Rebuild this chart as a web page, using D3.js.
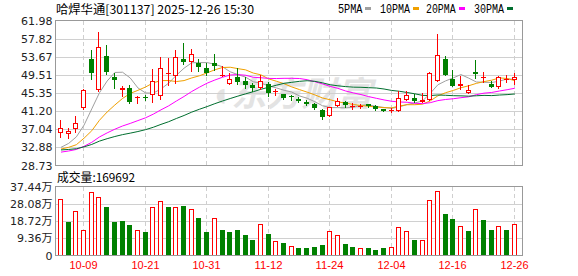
<!DOCTYPE html>
<html><head><meta charset="utf-8">
<script src="https://cdn.jsdelivr.net/npm/d3@7"></script>
<style>html,body{margin:0;padding:0;background:#fff;overflow:hidden}</style>
</head><body>
<svg id="c" width="578" height="276"></svg>
<script>
const dates = ["09-26","09-29","09-30","10-09","10-10","10-13","10-14","10-15","10-16","10-17","10-20","10-21","10-22","10-23","10-24","10-27","10-28","10-29","10-30","10-31","11-03","11-04","11-05","11-06","11-07","11-10","11-11","11-12","11-13","11-14","11-17","11-18","11-19","11-20","11-21","11-24","11-25","11-26","11-27","11-28","12-01","12-02","12-03","12-04","12-05","12-08","12-09","12-10","12-11","12-12","12-15","12-16","12-17","12-18","12-19","12-22","12-23","12-24","12-25","12-26"];
const openP = [36.22,35.99,37.14,42.03,53.04,46.01,53.95,49.06,45.93,46.54,44.17,44.48,44.86,44.71,49.67,49.22,53.04,52.43,52.20,51.20,52.12,49.22,47.46,48.91,48.07,47.15,46.46,47.38,45.62,45.09,44.71,43.94,43.18,42.72,41.42,40.04,42.41,43.33,42.18,42.18,42.80,42.41,41.73,41.19,41.19,43.79,44.32,43.33,43.71,48.15,53.04,48.68,46.92,45.39,50.06,48.76,47.46,46.69,48.38,48.38];
const highP = [39.05,37.37,40.12,46.20,55.33,59.23,56.32,49.98,47.00,47.30,44.70,45.01,50.90,53.50,53.27,55.33,56.71,55.48,53.19,52.12,54.26,51.58,49.83,51.13,48.99,47.69,49.37,47.84,46.31,45.09,44.86,44.40,43.64,43.10,41.80,42.18,44.32,43.41,43.10,42.80,42.80,42.57,41.73,42.03,45.70,45.70,45.09,45.32,50.21,58.77,53.95,50.74,49.14,47.23,52.96,50.13,48.07,49.22,49.52,49.98];
const lowP = [35.23,35.00,36.45,41.80,48.68,45.90,49.75,46.46,44.63,43.10,42.95,43.64,43.25,44.09,47.15,47.69,52.04,50.36,50.36,49.44,50.74,49.22,47.46,47.53,46.54,45.78,46.16,44.63,45.01,44.09,43.64,43.25,42.49,41.73,39.28,40.04,42.34,42.11,41.80,41.88,42.18,41.42,41.19,41.04,41.19,43.79,43.33,43.18,43.71,48.15,49.44,46.92,46.31,45.39,48.76,47.99,46.69,46.54,47.99,47.46];
const closeP = [37.44,36.68,38.51,46.08,49.83,55.94,50.13,48.30,46.39,43.25,44.55,44.33,48.15,51.13,49.90,53.65,52.35,54.41,51.28,49.98,51.66,49.52,48.68,47.99,47.08,46.39,48.07,45.32,45.77,44.32,44.40,43.48,42.72,41.88,39.81,42.18,43.41,42.49,42.41,42.45,42.34,41.72,41.27,41.42,44.17,45.01,43.48,43.64,49.98,54.11,49.44,46.92,47.46,45.93,49.67,49.06,46.69,48.99,48.53,49.06];
const volume = [306600,181800,239700,136600,342700,315600,263200,181800,187200,163700,136600,127500,261400,293900,261400,261400,266800,254100,203500,127500,201700,138400,127500,138400,111200,84100,169100,116700,78700,67800,51500,40700,40700,46100,57000,131100,109400,62400,46100,38900,40700,29800,40700,46100,154600,131100,84100,82300,301100,350000,225200,198000,158300,132900,252300,192600,138400,158300,138400,169692];
const ma5 = [32.9,33.8,35.3,38.0,41.71,45.41,48.10,50.06,50.12,48.80,46.52,45.36,45.33,46.28,47.62,49.43,51.04,52.29,52.32,52.33,51.94,51.37,50.22,49.57,48.99,47.93,47.64,46.97,46.53,45.98,45.58,44.68,44.16,43.36,42.43,42.01,42.00,41.95,42.06,42.59,42.62,42.28,42.04,41.83,42.18,42.72,43.07,43.54,45.26,47.24,48.13,48.82,49.58,48.77,47.88,47.81,47.76,48.07,48.59,48.47];
const ma10 = [32.5,32.9,33.5,35.0,36.7,39.1,41.0,42.6,44.1,45.26,45.97,46.73,47.70,48.20,48.21,47.98,48.20,48.81,49.30,49.97,50.68,51.20,51.26,50.94,50.66,49.93,49.51,48.60,48.05,47.48,46.75,46.14,45.55,44.93,44.21,43.80,43.33,43.05,42.71,42.50,42.31,42.14,41.99,41.95,42.38,42.67,42.67,42.79,43.54,44.71,45.42,45.94,46.56,47.01,47.56,47.97,48.29,48.83,48.68,48.18];
const ma20 = [31.8,32.06,32.41,33.14,34.05,35.27,36.21,37.05,37.79,38.38,39.03,39.67,40.51,41.49,42.41,43.51,44.56,45.70,46.69,47.61,48.33,48.97,49.48,49.57,49.43,48.96,48.85,48.70,48.67,48.72,48.72,48.68,48.41,47.94,47.44,46.87,46.42,45.82,45.38,45.00,44.53,44.14,43.77,43.45,43.30,43.23,43.00,42.92,43.13,43.61,43.87,44.04,44.28,44.48,44.97,45.32,45.48,45.81,46.11,46.44];
const ma30 = [32.30,32.41,32.58,33.01,33.56,34.32,34.88,35.38,35.81,36.15,36.52,36.95,37.50,38.16,38.77,39.51,40.20,40.97,41.63,42.24,42.91,43.52,44.09,44.64,45.16,45.65,46.21,46.67,47.14,47.57,47.80,48.03,48.17,48.03,47.69,47.24,47.01,46.82,46.69,46.66,46.58,46.50,46.27,45.94,45.75,45.47,45.17,44.81,44.77,44.90,44.83,44.74,44.70,44.63,44.72,44.81,44.76,44.89,44.98,45.13];
const priceTicks = [61.98,57.82,53.67,49.51,45.35,41.20,37.04,32.88,28.73];
const volTicks = [374400,280800,187200,93600,0];
const volTickLabels = ["37.44万","28.08万","18.72万","9.36万","0"];
const xTickDates = ["10-09","10-21","10-31","11-12","11-24","12-04","12-16","12-26"];
const maNames = ["5PMA","10PMA","20PMA","30PMA"];
const title = "哈焊华通[301137] 2025-12-26 15:30";
const volTitle = "成交量:169692";

const RED = "#ff0000", GREEN = "#008000";
const maColors = ["#a0a0a0","#f0a000","#ff00ff","#006e2e"];
const L = 55.5, R = 522.5, pTop = 20.5, pBot = 165.5, vTop = 186.5, vBot = 255.5;

const svg = d3.select("#c");
const x = d3.scalePoint().domain(dates).range([60.5, 514.3]);
const y = d3.scaleLinear().domain([28.73, 61.98]).range([pBot, pTop]);
const yv = d3.scaleLinear().domain([0, 374400]).range([vBot, vTop]);
const cx = d => Math.floor(x(d));

// watermark
svg.append("text").attr("x", 210).attr("y", 106).attr("font-family", "Noto Sans CJK SC")
  .attr("font-size", 34).attr("font-weight", "bold").attr("fill", "#e3e3e3")
  .attr("font-style", "italic").attr("textLength", 162).attr("lengthAdjust", "spacingAndGlyphs").text("◖东方财富");

const grid = svg.append("g").attr("shape-rendering", "crispEdges");
grid.selectAll(".hp").data(priceTicks.slice(1, -1)).join("line")
  .attr("x1", L).attr("x2", R).attr("y1", d => Math.round(y(d)) + 0.5).attr("y2", d => Math.round(y(d)) + 0.5)
  .attr("stroke", "#d0d0d0");
grid.selectAll(".hv").data(volTicks.slice(1, -1)).join("line")
  .attr("x1", L).attr("x2", R).attr("y1", d => Math.round(yv(d)) + 0.5).attr("y2", d => Math.round(yv(d)) + 0.5)
  .attr("stroke", "#d0d0d0");
[[pTop, pBot], [vTop, vBot]].forEach(([a, b]) => {
  grid.append("g").selectAll("line").data(xTickDates).join("line")
    .attr("x1", d => cx(d) + 0.5).attr("x2", d => cx(d) + 0.5).attr("y1", a).attr("y2", b)
    .attr("stroke", "#cfcfcf").attr("stroke-dasharray", "4,3");
});

// MA lines
[ma5, ma10, ma20, ma30].forEach((arr, k) => {
  const line = d3.line().x((v, i) => x(dates[i]) + 0.5).y(v => y(v));
  svg.append("path").attr("d", line(arr)).attr("fill", "none").attr("stroke", maColors[k]).attr("stroke-width", 1);
});

// candles
const cg = svg.append("g").attr("shape-rendering", "crispEdges");
dates.forEach((d, i) => {
  const o = openP[i], c = closeP[i], h = highP[i], l = lowP[i];
  const up = c >= o;
  const col = up ? RED : GREEN;
  const px = cx(d);
  cg.append("line").attr("x1", px + 0.5).attr("x2", px + 0.5)
    .attr("y1", Math.round(y(h))).attr("y2", Math.round(y(l)) + 1).attr("stroke", col);
  const top = Math.round(y(Math.max(o, c))), bot = Math.round(y(Math.min(o, c)));
  const hh = Math.max(1, bot - top);
  if (up && hh >= 3) {
    cg.append("rect").attr("x", px - 1.5).attr("y", top + 0.5).attr("width", 4).attr("height", hh - 1)
      .attr("fill", "#fff").attr("stroke", col);
  } else {
    cg.append("rect").attr("x", px - 2).attr("y", top).attr("width", 5).attr("height", hh)
      .attr("fill", col);
  }
});

// volume bars
const vg = svg.append("g").attr("shape-rendering", "crispEdges");
dates.forEach((d, i) => {
  const prev = i === 0 ? openP[0] : closeP[i - 1];
  const up = closeP[i] >= prev;
  const px = cx(d);
  const top = Math.round(yv(volume[i]));
  const bot = Math.round(vBot);
  if (up) {
    vg.append("rect").attr("x", px - 1.5).attr("y", top + 0.5).attr("width", 4).attr("height", bot - top - 1)
      .attr("fill", "#fff").attr("stroke", RED);
  } else {
    vg.append("rect").attr("x", px - 2).attr("y", top).attr("width", 5).attr("height", bot - top).attr("fill", GREEN);
  }
});

// frames
const fr = svg.append("g").attr("shape-rendering", "crispEdges");
fr.append("rect").attr("x", L).attr("y", pTop).attr("width", R - L).attr("height", pBot - pTop).attr("fill", "none").attr("stroke", "#999");
fr.append("rect").attr("x", L).attr("y", vTop).attr("width", R - L).attr("height", vBot - vTop).attr("fill", "none").attr("stroke", "#999");

// axes labels
const yAxis = d3.axisLeft(y).tickValues(priceTicks).tickFormat(d3.format(".2f")).tickSize(0).tickPadding(3);
const ya = svg.append("g").attr("transform", `translate(${L},0)`).call(yAxis);
ya.select(".domain").remove();
ya.selectAll("text").attr("font-family", "DejaVu Sans").attr("font-size", 11).attr("fill", "#222");

const vAxis = d3.axisLeft(yv).tickValues(volTicks).tickFormat((d, i) => volTickLabels[i]).tickSize(0).tickPadding(3);
const va = svg.append("g").attr("transform", `translate(${L},0)`).call(vAxis);
va.select(".domain").remove();
va.selectAll("text").attr("font-family", "DejaVu Sans, Noto Sans CJK SC").attr("font-size", 11).attr("fill", "#222");

const xAxis = d3.axisBottom(x).tickValues(xTickDates).tickSize(0).tickPadding(0);
const xa = svg.append("g").attr("transform", `translate(0.5,${vBot})`).call(xAxis);
xa.select(".domain").remove();
xa.selectAll("text").attr("font-family", "Liberation Sans").attr("font-size", 11).attr("fill", RED)
  .attr("dy", null).attr("y", 13.5).attr("textLength", 28).attr("lengthAdjust", "spacingAndGlyphs");
xa.selectAll(".tick").attr("transform", d => `translate(${cx(d)},0)`);

// titles
svg.append("text").attr("x", 56).attr("y", 14).attr("font-family", "Noto Sans CJK SC").attr("font-size", 12)
  .attr("fill", "#000").attr("textLength", 198).attr("lengthAdjust", "spacingAndGlyphs").text(title);
svg.append("text").attr("x", 57).attr("y", 181.5).attr("font-family", "Noto Sans CJK SC").attr("font-size", 12)
  .attr("fill", "#000").attr("textLength", 78).attr("lengthAdjust", "spacingAndGlyphs").text(volTitle);

// legend
const legX = [338, 380, 426, 474], legW = [24.5, 30, 29.6, 30], sqX = [365, 413, 459, 507];
maNames.forEach((n, k) => {
  svg.append("text").attr("x", legX[k]).attr("y", 12.5).attr("font-family", "Liberation Mono").attr("font-size", 12)
    .attr("fill", "#000").attr("textLength", legW[k]).attr("lengthAdjust", "spacingAndGlyphs").text(n);
  svg.append("rect").attr("x", sqX[k]).attr("y", 7).attr("width", 6).attr("height", 3).attr("fill", maColors[k]);
});
</script>
</body></html>
